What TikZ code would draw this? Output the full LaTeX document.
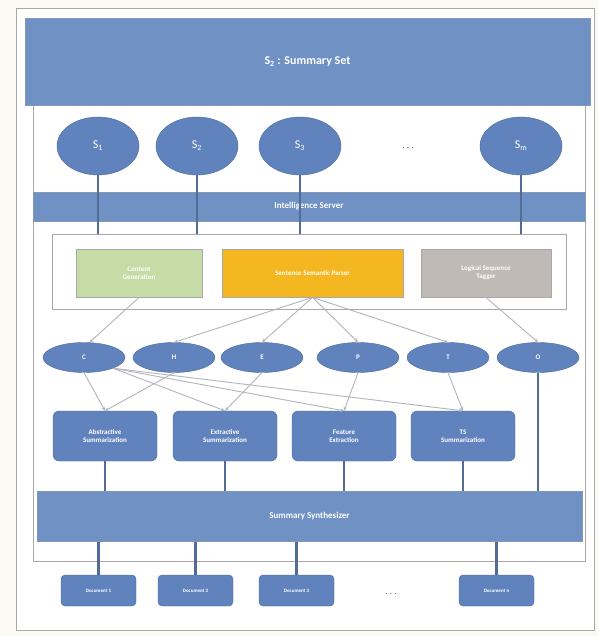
\documentclass[tikz,border=0pt]{standalone}
\usepackage{fontspec}
\setmainfont{Carlito}
\usetikzlibrary{shapes.geometric,arrows.meta,positioning}

\definecolor{paper}{RGB}{250,249,243}
\definecolor{framegray}{RGB}{168,168,168}
\definecolor{bandblue}{RGB}{112,145,196}
\definecolor{nodeblue}{RGB}{96,131,190}
\definecolor{edgeblue}{RGB}{76,106,156}
\definecolor{wireblue}{RGB}{82,108,148}
\definecolor{linkgray}{RGB}{178,180,190}
\definecolor{ctxgreen}{RGB}{197,220,166}
\definecolor{parseorange}{RGB}{245,183,32}
\definecolor{taggray}{RGB}{191,186,181}

\begin{document}
\begin{tikzpicture}[x=1pt,y=-1pt,
  band/.style={draw=edgeblue!70, fill=bandblue, text=white, font=\bfseries, inner sep=0pt},
  sumell/.style={ellipse, draw=edgeblue, fill=nodeblue, text=white, font=\large, minimum width=82pt, minimum height=58pt, inner sep=0pt},
  catell/.style={ellipse, draw=edgeblue, fill=nodeblue, text=white, font=\scriptsize\bfseries, minimum width=82pt, minimum height=30pt, inner sep=0pt},
  modbox/.style={draw=framegray, thick, text=white, font=\scriptsize\bfseries, align=center, minimum height=48pt, inner sep=0pt},
  procbox/.style={rounded corners=6pt, draw=edgeblue, fill=nodeblue, text=white, font=\scriptsize\bfseries, align=center, minimum width=104pt, minimum height=50pt, inner sep=0pt},
  docbox/.style={rounded corners=4pt, draw=edgeblue, fill=nodeblue, text=white, font=\tiny\bfseries, minimum width=75pt, minimum height=31pt, inner sep=0pt},
  dots/.style={text=black!75, font=\bfseries},
  wire/.style={wireblue, line width=2.2pt},
  link/.style={linkgray, line width=0.9pt, -{Stealth[length=4pt,width=3.5pt]}}
]
\useasboundingbox (0,0) rectangle (598,636);
\fill[paper] (0,0) rectangle (598,636);

% frames
\draw[framegray, fill=white, thick] (16,8) rectangle (594,630);
\draw[framegray, thick] (33,105) rectangle (585,561);

% summary set on top
\node[band, minimum width=565pt, minimum height=87pt, font=\large\bfseries] (set) at (307.5,61.5) {S\textsubscript{2} : Summary Set};

% summaries
\node[sumell] (s1) at (98,146) {S\textsubscript{1}};
\node[sumell] (s2) at (197,146) {S\textsubscript{2}};
\node[sumell] (s3) at (300,146) {S\textsubscript{3}};
\node[dots] (sdots) at (408,148) {$\cdots$};
\node[sumell] (sm) at (521,146) {S\textsubscript{m}};

% server and modules
\node[band, minimum width=552pt, minimum height=29pt, font=\small\bfseries] (server) at (309,206.5) {Intelligence Server};
\node[draw=framegray, thick, fill=white, minimum width=514pt, minimum height=75pt] (panel) at (309,271.5) {};
\node[modbox, fill=ctxgreen, minimum width=126pt] (ctx) at (139,273) {Content\\Generation};
\node[modbox, fill=parseorange, minimum width=181pt] (parser) at (312.5,273) {Sentence Semantic Parser};
\node[modbox, fill=taggray, minimum width=130pt] (tagger) at (486,273) {Logical Sequence\\Tagger};

\foreach \s in {s1,s2,s3,sm}
  \draw[wire] (\s.south) -- (\s |- panel.north);

% categories
\node[catell] (c) at (84,357.5) {C};
\node[catell] (h) at (174,357.5) {H};
\node[catell] (e) at (262,357.5) {E};
\node[catell] (p) at (358,357.5) {P};
\node[catell] (t) at (448,357.5) {T};
\node[catell] (o) at (538,357.5) {O};

\draw[link] (ctx.south) -- (c.70);
\foreach \k in {h,e,p,t}
  \draw[link] (parser.south) -- (\k.north);
\draw[link] (tagger.south) -- (o.north);

% summarizers
\node[procbox] (abs) at (105,436) {Abstractive\\Summarization};
\node[procbox] (ext) at (225,436) {Extractive\\Summarization};
\node[procbox] (fea) at (344,436) {Feature\\Extraction};
\node[procbox] (tsum) at (463,436) {TS\\Summarization};

\draw[link] (c.south) -- (abs.north);
\draw[link] (h.south) -- (abs.north);
\foreach \k in {ext,fea,tsum}
  \draw[link] (c.south east) -- (\k.north);
\draw[link] (e.south) -- (ext.north);
\draw[link] (p.south) -- (fea.north);
\draw[link] (t.south) -- (tsum.north);

% synthesizer
\node[band, minimum width=545pt, minimum height=50pt, font=\small\bfseries] (synth) at (309.5,516.5) {Summary Synthesizer};
\foreach \k in {abs,ext,fea,tsum,o}
  \draw[wire] (\k.south) -- (\k |- synth.north);

% documents
\node[docbox] (d1) at (98.5,590.5) {Document 1};
\node[docbox] (d2) at (195.5,590.5) {Document 2};
\node[docbox] (d3) at (296.5,590.5) {Document 3};
\node[dots] (ddots) at (391,594) {$\cdots$};
\node[docbox] (dn) at (496.5,590.5) {Document n};
\foreach \d in {d1,d2,d3,dn}
  \draw[wire] (\d |- synth.south) -- (\d.north);

\end{tikzpicture}
\end{document}
